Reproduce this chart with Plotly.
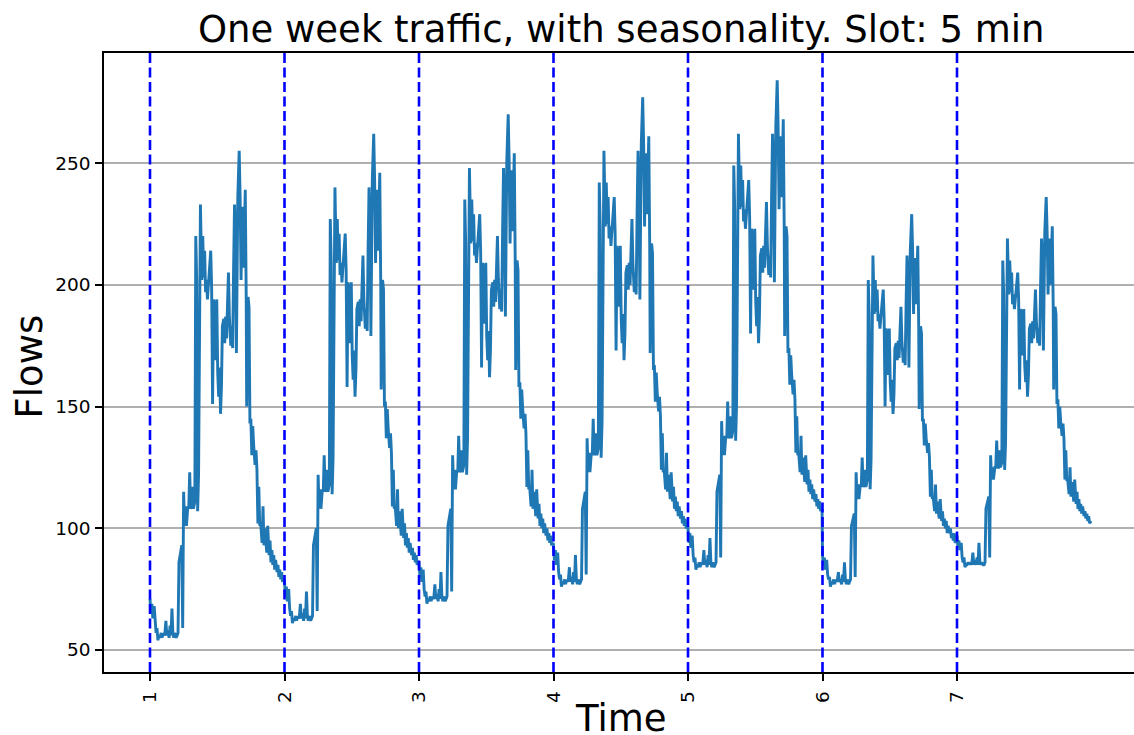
import plotly.graph_objects as go

# slot index (5-min slots, 288 per day) of each sampled reading within a day
slot_in_day = [0,2,4,6,9,11,13,15,17,19,21,24,26,28,30,32,34,36,38,41,43,45,47,49,51,53,56,58,60,62,
               64,66,68,70,72,74,76,78,81,83,85,87,89,91,93,96,98,100,102,104,106,108,111,113,115,117,119,121,123,125,
               128,130,132,134,136,138,140,143,145,147,149,151,153,155,158,160,162,164,166,168,170,173,175,177,179,181,183,185,188,190,
               191,193,195,197,200,202,204,206,207,210,212,214,216,218,220,222,225,227,229,231,233,235,237,240,242,244,246,248,250,252,
               255,257,259,261,263,265,267,269,272,274,276,278,280,282,284,287]

day1 = [71,65,69,63,68,60,57,59,54,56,55,57,55,57,56,57,62,56,58,55,
        60,56,67,57,55,57,55,56,57,86,89,91,93,59,115,101,109,101,109,108,
        123,108,109,117,108,111,220,202,107,122,200,233,202,220,203,214,197,202,194,200,
        205,214,199,151,194,191,169,194,164,154,166,147,158,183,186,176,187,178,192,205,
        187,175,183,174,207,233,218,172,236,246,255,236,202,232,207,221,239,195,150,195,
        191,143,145,130,142,134,126,132,124,102,117,101,102,94,109,93,100,95,90,101,
        89,95,86,91,85,89,83,87,82,85,80,83,79,82,78,79]
day2 = [78,72,76,70,75,67,64,66,61,63,62,64,62,64,63,64,69,63,65,62,
        67,63,74,64,62,64,62,63,64,93,96,98,100,66,122,108,116,108,116,115,
        130,115,116,124,115,118,227,209,114,129,207,240,209,227,210,221,204,209,201,207,
        212,221,206,158,201,198,176,201,171,161,173,154,165,190,193,183,194,185,199,212,
        194,182,190,181,214,240,225,179,243,253,262,243,209,239,214,228,246,202,157,202,
        198,150,152,137,149,141,133,139,131,109,124,108,109,101,116,100,107,102,97,108,
        96,102,93,98,92,96,90,94,89,92,87,90,86,89,85,86]
day3 = [86,80,84,78,83,75,72,74,69,71,70,72,70,72,71,72,77,71,73,70,
        75,71,82,72,70,72,70,71,72,101,104,106,108,74,130,116,124,116,124,123,
        138,123,124,132,123,126,235,217,122,137,215,248,217,235,218,229,212,217,209,215,
        220,229,214,166,209,206,184,209,179,169,181,162,173,198,201,191,202,193,207,220,
        202,190,198,189,222,248,233,187,251,261,270,251,217,247,222,236,254,210,165,210,
        206,158,160,145,157,149,141,147,139,117,132,116,117,109,124,108,115,110,105,116,
        104,110,101,106,100,104,98,102,97,100,95,98,94,97,93,94]
day4 = [93,87,91,85,90,82,79,81,76,78,77,79,77,79,78,79,84,78,80,77,
        82,78,89,79,77,79,77,78,79,108,111,113,115,81,137,123,131,123,131,130,
        145,130,131,139,130,133,242,224,129,144,222,255,224,242,225,236,219,224,216,222,
        227,236,221,173,216,213,191,216,186,176,188,169,180,205,208,198,209,200,214,227,
        209,197,205,196,229,255,240,194,258,268,277,258,224,254,229,243,261,217,172,217,
        213,165,167,152,164,156,148,154,146,124,139,123,124,116,131,115,122,117,112,123,
        111,117,108,113,107,111,105,109,104,107,102,105,101,104,100,101]
day5 = [100,94,98,92,97,89,86,88,83,85,84,86,84,86,85,86,91,85,87,84,
        89,85,96,86,84,86,84,85,86,115,118,120,122,88,144,130,138,130,138,137,
        152,137,138,146,137,140,249,231,136,151,229,262,231,249,232,243,226,231,223,229,
        234,243,228,180,223,220,198,223,193,183,195,176,187,212,215,205,216,207,221,234,
        216,204,212,203,236,262,247,201,265,275,284,265,231,261,236,250,268,224,179,224,
        220,172,174,159,171,163,155,161,153,131,146,130,131,123,138,122,129,124,119,130,
        118,124,115,120,114,118,112,116,111,114,109,112,108,111,107,108]
day6 = [89,85,88,83,87,81,79,80,76,78,77,79,77,79,78,79,82,78,79,77,
        81,78,86,79,77,79,77,78,79,101,103,104,106,80,123,112,118,112,118,117,
        129,117,118,124,117,120,202,188,116,128,187,212,188,202,189,198,185,188,182,187,
        191,198,186,150,182,180,163,182,160,152,161,147,155,174,176,169,177,170,181,191,
        177,168,174,167,192,212,200,166,214,222,229,214,188,211,192,203,216,183,149,183,
        180,144,145,134,143,137,131,135,129,113,124,112,113,107,118,106,111,107,104,112,
        103,107,101,104,100,103,98,101,98,100,96,98,95,98,94,95]
day7 = [97,92,95,91,94,88,86,88,84,85,85,86,85,86,85,86,90,85,87,85,
        88,85,94,86,85,86,85,85,86,108,110,112,113,88,130,120,125,120,125,125,
        136,125,125,132,125,127,210,196,124,135,194,219,196,210,197,205,192,196,190,194,
        198,205,194,157,190,188,171,190,167,160,169,154,163,182,184,176,185,178,188,198,
        185,176,182,175,200,219,208,173,222,229,236,222,196,219,200,210,224,191,157,191,
        188,151,153,141,150,144,138,143,137,120,132,120,120,114,125,113,119,115,111,120,
        110,115,108,112,107,110,106,109,105,107,104,106,103,105,102,103]

days = [1, 2, 3, 4, 5, 6, 7]
day_series = [day1, day2, day3, day4, day5, day6, day7]
SLOTS_PER_DAY = 288

x_vals, y_vals = [], []
for d, series in zip(days, day_series):
    for s, v in zip(slot_in_day, series):
        x_vals.append(d + s / SLOTS_PER_DAY)
        y_vals.append(v)

y_ticks = [50, 100, 150, 200, 250]
x_tick_labels = [str(d) for d in days]

FONT = "DejaVu Sans"

fig = go.Figure()
fig.add_trace(go.Scatter(x=x_vals, y=y_vals, mode="lines",
                         line=dict(color="#1f77b4", width=2.9),
                         hoverinfo="skip", showlegend=False))

for d in days:
    fig.add_shape(type="line", xref="x", yref="paper", x0=d, x1=d, y0=0, y1=1,
                  line=dict(color="#0000ff", width=2.6, dash="10px,4.5px"), layer="above")

fig.update_layout(
    width=1134, height=735,
    margin=dict(l=104, r=0, t=53, b=63),
    paper_bgcolor="white", plot_bgcolor="white",
    font=dict(family=FONT, color="black"),
    showlegend=False,
)
fig.update_xaxes(range=[0.658, 8.316], tickmode="array", tickvals=days, ticktext=x_tick_labels,
                 tickangle=-90, ticks="outside", ticklen=7, tickwidth=1.5, tickcolor="black",
                 tickfont=dict(size=18.5, family=FONT, color="black"),
                 showgrid=False, zeroline=False, showline=True, linecolor="black", linewidth=1.5,
                 mirror=True, ticklabelstandoff=3, automargin=False)
fig.update_yaxes(range=[40.97, 295.2], tickmode="array", tickvals=y_ticks,
                 ticks="outside", ticklen=7, tickwidth=1.5, tickcolor="black",
                 tickfont=dict(size=18.5, family=FONT, color="black"),
                 showgrid=True, gridcolor="#b0b0b0", gridwidth=1.5, zeroline=False,
                 showline=True, linecolor="black", linewidth=1.5, mirror=False,
                 ticklabelstandoff=1, automargin=False)

fig.add_annotation(text="One week traffic, with seasonality. Slot: 5 min", xref="paper", yref="paper",
                   x=0.502, y=1, xanchor="center", yanchor="bottom", showarrow=False,
                   font=dict(size=37, family=FONT, color="black"))
fig.add_annotation(text="Time", xref="paper", yref="paper", x=0.502, y=0, xanchor="center",
                   yanchor="top", yshift=-23, showarrow=False,
                   font=dict(size=37, family=FONT, color="black"))
fig.add_annotation(text="Flows", xref="paper", yref="paper", x=0, y=0.4935, xanchor="center",
                   yanchor="middle", xshift=-74, textangle=-90, showarrow=False,
                   font=dict(size=37, family=FONT, color="black"))

fig.write_html("out.html", config={"displayModeBar": False},
               post_script="document.body.style.margin='0';document.body.style.overflow='hidden';")
